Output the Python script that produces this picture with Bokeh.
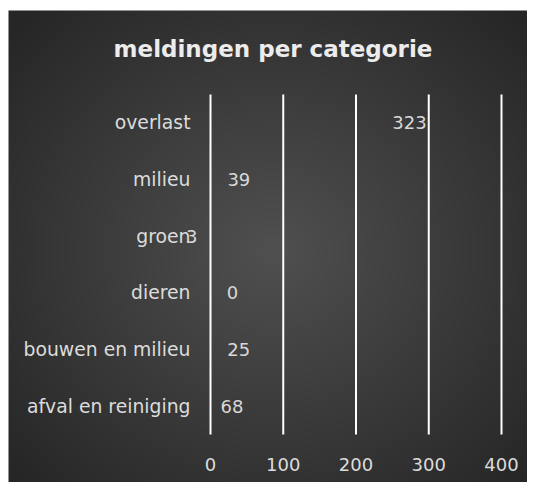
import numpy as np
from bokeh.plotting import figure
from bokeh.models import Range1d, LinearAxis, FixedTicker, ColumnDataSource, Label
from bokeh.core.properties import value
from bokeh.embed import file_html
from bokeh.resources import INLINE

# ---- data ----
categories = ["overlast", "milieu", "groen", "dieren", "bouwen en milieu", "afval en reiniging"]
counts = [323, 39, 3, 0, 25, 68]
x_ticks = [0, 100, 200, 300, 400]
title_text = "meldingen per categorie"

# ---- style / layout ----
label_dx = [-36, 0, -21, 22, 10, -28]   # pixel nudges of the value labels
W, H = 527, 482
BG_L, BG_T = 8, 10     # where the dark chart background starts
PX_X = 0.7275          # pixels per unit on x
X0_PX = 210            # canvas x of value 0
PX_Y = 56.67           # pixels per category
YB_PX = 434            # canvas y (from top) of the bottom of the category band

n = len(categories)
ypos = [n - i for i in range(n)]
xs = -X0_PX / PX_X
xe = (W - X0_PX) / PX_X
y_end = 0.5 + YB_PX / PX_Y
y_start = 0.5 - (H - YB_PX) / PX_Y

p = figure(width=W, height=H, x_range=Range1d(xs, xe), y_range=Range1d(y_start, y_end),
           output_backend="svg", toolbar_location=None, min_border=0,
           x_axis_location=None, y_axis_location=None)
p.outline_line_color = None
p.background_fill_color = "#ffffff"
p.border_fill_color = "#ffffff"
p.grid.visible = False

# radial gradient background
GW, GH = W - BG_L, H - BG_T
cx, cy = 272.0 - BG_L, 250.0 - BG_T
rx, ry = 265.0, 245.0
gx, gy = np.meshgrid(np.arange(GW) + 0.5, np.arange(GH) + 0.5)
t = np.sqrt(((gx - cx) / rx) ** 2 + ((gy - cy) / ry) ** 2)
c0, c1, R = 80.0, 38.0, 1.35
v = c0 + (c1 - c0) * np.clip(t / R, 0, 1)
v = np.flipud(v).astype(np.uint8)
rgba = np.zeros((GH, GW, 4), dtype=np.uint8)
rgba[..., 0] = v
rgba[..., 1] = v
rgba[..., 2] = v
rgba[..., 3] = 255
img = rgba.view(dtype=np.uint32).reshape(GH, GW)
p.image_rgba(image=[img], x=xs + BG_L / PX_X, y=y_start, dw=GW / PX_X, dh=GH / PX_Y)

# grid lines
p.segment(x0=x_ticks, y0=[0.5] * len(x_ticks), x1=x_ticks, y1=[n + 0.5] * len(x_ticks),
          line_color="#ffffff", line_width=2)

# category axis
yaxis = LinearAxis(fixed_location=0, bounds=(0.5, n + 0.5),
                   ticker=FixedTicker(ticks=ypos),
                   major_label_overrides={y: c for y, c in zip(ypos, categories)},
                   axis_line_color=None, major_tick_line_color=None, minor_tick_line_color=None,
                   major_tick_out=0, major_tick_in=0, major_label_standoff=20,
                   major_label_text_color="#dcdcdc", major_label_text_font="DejaVu Sans",
                   major_label_text_font_size="18.8px")
p.add_layout(yaxis, "left")

# value axis
xaxis = LinearAxis(fixed_location=0.5, ticker=FixedTicker(ticks=x_ticks),
                   axis_line_color=None, major_tick_line_color=None, minor_tick_line_color=None,
                   major_tick_out=0, major_tick_in=0, major_label_standoff=23,
                   major_label_text_color="#dcdcdc", major_label_text_font="DejaVu Sans",
                   major_label_text_font_size="18px")
p.add_layout(xaxis, "below")

# value labels
src = ColumnDataSource(dict(x=counts, y=ypos, label=[str(c) for c in counts], dx=label_dx))
p.text(x="x", y="y", text="label", x_offset="dx", source=src,
       text_align="center", text_baseline="middle",
       text_font=value("DejaVu Sans"), text_font_size=value("18px"), text_color="#d8d8d8")

# title
title = Label(x=xs + 272.5 / PX_X, y=y_end - 48 / PX_Y, text=title_text,
              text_align="center", text_baseline="middle",
              text_font="DejaVu Sans", text_font_style="bold", text_font_size="23px",
              text_color="#ececec")
p.add_layout(title)

open("out.html", "w").write(file_html(p, INLINE))
